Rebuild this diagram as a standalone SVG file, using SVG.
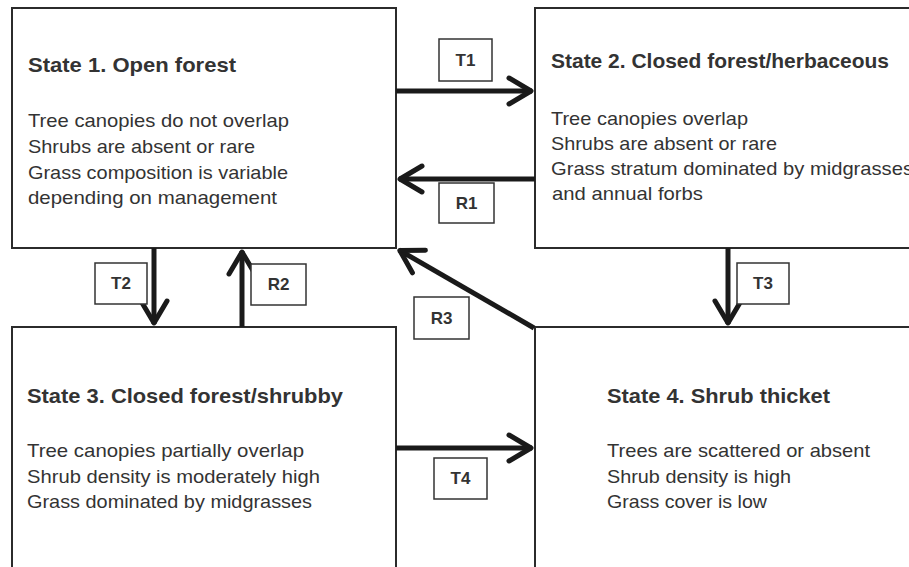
<svg xmlns="http://www.w3.org/2000/svg" width="909" height="567" viewBox="0 0 909 567">
<style>
.box{fill:#fff;stroke:#2b2b2b;stroke-width:2}
.title{font-family:"Liberation Sans",Arial,sans-serif;font-weight:bold;font-size:21px;fill:#333}
.body{font-family:"Liberation Sans",Arial,sans-serif;font-size:19px;fill:#333}
.conn{stroke:#1a1a1a;stroke-width:5;fill:none;marker-end:url(#ah)}
.lbox{fill:#fff;stroke:#333;stroke-width:1.5}
.ltxt{font-family:"Liberation Sans",Arial,sans-serif;font-weight:bold;font-size:17px;fill:#333;text-anchor:middle}
</style>
<defs>
<marker id="ah" markerUnits="userSpaceOnUse" markerWidth="40" markerHeight="40" viewBox="-30 -20 40 40" refX="0" refY="0" orient="auto" overflow="visible">
<path d="M-23,-13 L-1,0 L-23,13" fill="none" stroke="#1a1a1a" stroke-width="5" stroke-linecap="round" stroke-linejoin="round"/>
</marker>
</defs>
<rect width="909" height="567" fill="#fff"/>
<g id="state1">
<rect class="box" x="12" y="8" width="384" height="240"/>
<text class="title" x="28" y="72" textLength="208" lengthAdjust="spacingAndGlyphs">State 1. Open forest</text>
<text class="body" x="28" y="127" textLength="261" lengthAdjust="spacingAndGlyphs">Tree canopies do not overlap</text>
<text class="body" x="28" y="153" textLength="227" lengthAdjust="spacingAndGlyphs">Shrubs are absent or rare</text>
<text class="body" x="28" y="179" textLength="260" lengthAdjust="spacingAndGlyphs">Grass composition is variable</text>
<text class="body" x="28" y="204" textLength="249" lengthAdjust="spacingAndGlyphs">depending on management</text>
</g>
<g id="state2">
<rect class="box" x="535" y="8" width="390" height="240"/>
<text class="title" x="551" y="68" textLength="338" lengthAdjust="spacingAndGlyphs">State 2. Closed forest/herbaceous</text>
<text class="body" x="551" y="125" textLength="197" lengthAdjust="spacingAndGlyphs">Tree canopies overlap</text>
<text class="body" x="551" y="150" textLength="226" lengthAdjust="spacingAndGlyphs">Shrubs are absent or rare</text>
<text class="body" x="551" y="175" textLength="362" lengthAdjust="spacingAndGlyphs">Grass stratum dominated by midgrasses</text>
<text class="body" x="552" y="200" textLength="151" lengthAdjust="spacingAndGlyphs">and annual forbs</text>
</g>
<g id="state3">
<rect class="box" x="12" y="327" width="384" height="260"/>
<text class="title" x="27" y="403" textLength="316" lengthAdjust="spacingAndGlyphs">State 3. Closed forest/shrubby</text>
<text class="body" x="27" y="457" textLength="277" lengthAdjust="spacingAndGlyphs">Tree canopies partially overlap</text>
<text class="body" x="27" y="483" textLength="293" lengthAdjust="spacingAndGlyphs">Shrub density is moderately high</text>
<text class="body" x="27" y="508" textLength="285" lengthAdjust="spacingAndGlyphs">Grass dominated by midgrasses</text>
</g>
<g id="state4">
<rect class="box" x="535" y="327" width="390" height="260"/>
<text class="title" x="607" y="403" textLength="223" lengthAdjust="spacingAndGlyphs">State 4. Shrub thicket</text>
<text class="body" x="607" y="457" textLength="263" lengthAdjust="spacingAndGlyphs">Trees are scattered or absent</text>
<text class="body" x="607" y="483" textLength="184" lengthAdjust="spacingAndGlyphs">Shrub density is high</text>
<text class="body" x="607" y="508" textLength="160" lengthAdjust="spacingAndGlyphs">Grass cover is low</text>
</g>
<g id="connectors">
<path class="conn" d="M396,91 L532,91"/>
<path class="conn" d="M535,179 L399,179"/>
<path class="conn" d="M154,248 L154,324"/>
<path class="conn" d="M242,327 L242,251"/>
<path class="conn" d="M534,328 L399,250"/>
<path class="conn" d="M728,248 L728,324"/>
<path class="conn" d="M396,448 L532,448"/>
</g>
<g id="labels">
<g id="T1"><rect class="lbox" x="439" y="39" width="53" height="42"/><text class="ltxt" x="465.5" y="66">T1</text></g>
<g id="R1"><rect class="lbox" x="439" y="183" width="55" height="40"/><text class="ltxt" x="466.5" y="209">R1</text></g>
<g id="T2"><rect class="lbox" x="95" y="263" width="52" height="41"/><text class="ltxt" x="121" y="289">T2</text></g>
<g id="R2"><rect class="lbox" x="251" y="264" width="55" height="41"/><text class="ltxt" x="278.5" y="290">R2</text></g>
<g id="R3"><rect class="lbox" x="414" y="297" width="55" height="42"/><text class="ltxt" x="441.5" y="324">R3</text></g>
<g id="T3"><rect class="lbox" x="737" y="263" width="52" height="41"/><text class="ltxt" x="763" y="289">T3</text></g>
<g id="T4"><rect class="lbox" x="434" y="458" width="53" height="41"/><text class="ltxt" x="460.5" y="484">T4</text></g>
</g>
</svg>
